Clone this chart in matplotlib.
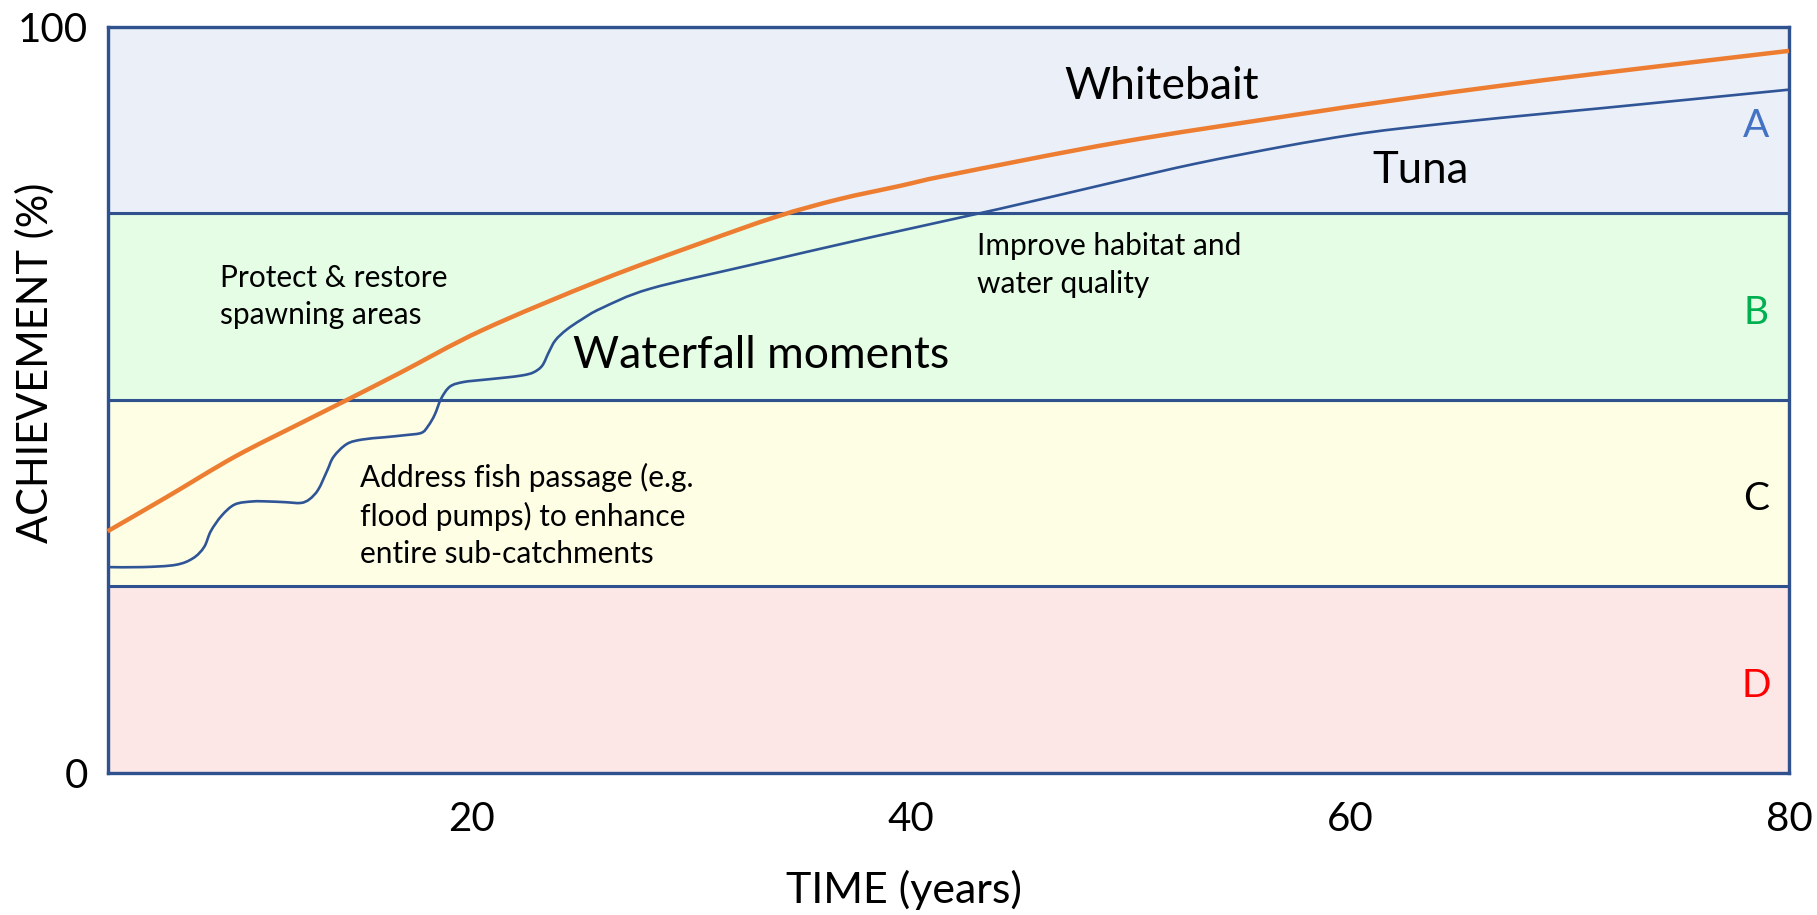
import matplotlib
matplotlib.use("Agg")
import numpy as np
import matplotlib.pyplot as plt
from matplotlib.path import Path
from matplotlib.patches import PathPatch

plt.rcParams['font.family'] = ['Lato', 'DejaVu Sans']

# achievement bands (lower, upper, label)
band_edges = [0, 25, 50, 75, 100]
band_names = ["D", "C", "B", "A"]
band_fill = ["#FCE6E6", "#FEFEE5", "#E4FDE4", "#EBEFF8"]
band_text = ["#FF0000", "#000000", "#00B050", "#4472C4"]

# whitebait: smooth rise
whitebait_x = [3.4, 6.1, 9.2, 12.2, 14.3, 16.7, 20.5, 25.9, 30.4, 33.9, 36.7, 39.5,
               41.8, 49.4, 57.0, 62.3, 66.8, 71.4, 80.0]
whitebait_y = [32.4, 37.0, 42.4, 46.9, 50.0, 53.6, 59.4, 66.1, 71.0, 74.6, 76.9, 78.7,
               80.2, 84.5, 88.0, 90.3, 92.1, 93.8, 96.8]

# tuna: stepped "waterfall moments" then gradual rise
tuna_x = [3.4, 5.0, 6.5, 7.3, 7.8, 8.1, 8.6, 9.2, 10.0, 10.7, 11.5, 12.2, 12.6, 13.0,
          13.4, 13.7, 14.3, 15.0, 16.0, 17.0, 17.7, 18.0, 18.3, 18.6, 19.0, 19.6, 20.5,
          21.5, 22.3, 22.8, 23.2, 23.5, 23.8, 24.3, 25.0, 25.9, 28.1, 32.7, 38.0, 44.0,
          49.4, 53.0, 57.0, 60.0, 62.3, 66.8, 71.4, 80.0]
tuna_y = [27.6, 27.6, 27.9, 28.8, 30.3, 32.4, 34.5, 36.0, 36.4, 36.4, 36.3, 36.2, 36.7,
          38.0, 40.5, 42.4, 44.1, 44.7, 45.0, 45.3, 45.6, 46.5, 48.0, 50.2, 51.8, 52.4,
          52.7, 53.0, 53.3, 53.7, 54.6, 56.4, 58.0, 59.4, 60.8, 62.3, 64.9, 68.1, 71.7,
          75.6, 79.3, 81.7, 84.0, 85.5, 86.4, 87.8, 89.1, 91.6]

x_ticks = [20, 40, 60, 80]
y_ticks = [0, 100]

edge = "#2F528F"


def smooth_path(xs, ys):
    # catmull-rom through the read points, drawn as bezier segments
    pts = np.column_stack([xs, ys])
    n = len(pts)
    verts = [pts[0]]
    codes = [Path.MOVETO]
    for i in range(n - 1):
        p0 = pts[i - 1] if i > 0 else pts[i]
        p1 = pts[i]
        p2 = pts[i + 1]
        p3 = pts[i + 2] if i + 2 < n else pts[i + 1]
        verts += [p1 + (p2 - p0) / 6, p2 - (p3 - p1) / 6, p2]
        codes += [Path.CURVE4] * 3
    return Path(verts, codes)


fig = plt.figure(figsize=(18.17, 9.15), dpi=100)
ax = fig.add_axes([0.0592, 0.1552, 0.9254, 0.8153])

for i in range(4):
    ax.axhspan(band_edges[i], band_edges[i + 1], facecolor=band_fill[i],
               edgecolor=edge, linewidth=2.2, zorder=0)
    ax.text(78.5, (band_edges[i] + band_edges[i + 1]) / 2 - 0.8, band_names[i],
            color=band_text[i], fontsize=28, ha='center', va='center')

ax.add_patch(PathPatch(smooth_path(whitebait_x, whitebait_y), fill=False,
                       edgecolor="#ED7D31", linewidth=3.2, zorder=3, clip_on=False))
ax.add_patch(PathPatch(smooth_path(tuna_x, tuna_y), fill=False,
                       edgecolor="#2F5597", linewidth=1.9, zorder=3, clip_on=False))

ax.set_xlim(3.4, 80)
ax.set_ylim(0, 100)
ax.set_xticks(x_ticks)
ax.set_yticks(y_ticks)
ax.tick_params(length=0, labelsize=29)
ax.tick_params(axis='x', pad=20)
ax.tick_params(axis='y', pad=14)
for s in ax.spines.values():
    s.set_color(edge)
    s.set_linewidth(2.4)

ax.set_xlabel("TIME (years)", fontsize=31, va='center')
ax.set_ylabel("ACHIEVEMENT (%)", fontsize=30, va='center')
ax.xaxis.set_label_coords(0.4737, -0.157)
ax.yaxis.set_label_coords(-0.043, 0.55)

ax.text(47.0, 92.0, "Whitebait", fontsize=32, ha='left', va='center')
ax.text(61.0, 80.8, "Tuna", fontsize=31.5, ha='left', va='center')
ax.text(24.6, 55.9, "Waterfall moments", fontsize=32, ha='left', va='center')
ax.text(8.5, 63.9, "Protect & restore\nspawning areas", fontsize=21.5,
        ha='left', va='center', linespacing=1.4)
ax.text(43.0, 68.1, "Improve habitat and\nwater quality", fontsize=21.5,
        ha='left', va='center', linespacing=1.4)
ax.text(14.9, 34.5, "Address fish passage (e.g.\nflood pumps) to enhance\nentire sub-catchments",
        fontsize=21.5, ha='left', va='center', linespacing=1.4)

fig.savefig("out.png", dpi=100)
